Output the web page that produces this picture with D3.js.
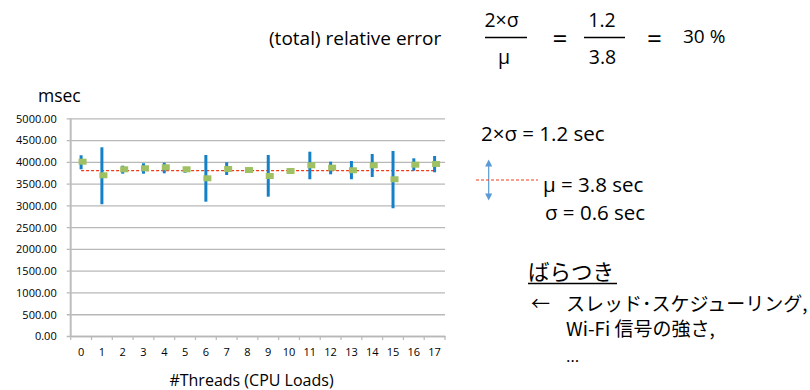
<!DOCTYPE html>
<html><head><meta charset="utf-8">
<script src="https://cdn.jsdelivr.net/npm/d3@7"></script>
<style>
body{margin:0;background:#fff;}
svg{display:block;}
text{font-family:"Open Sans","Lato",sans-serif;fill:#000;}
.jp{font-family:"Noto Sans CJK JP",sans-serif;}
</style></head>
<body><svg id="c" width="810" height="390"></svg>
<script>
const categories = ["0","1","2","3","4","5","6","7","8","9","10","11","12","13","14","15","16","17"];
const meanValues = [4004,3691,3829,3852,3875,3829,3622,3836,3813,3675,3790,3921,3866,3806,3921,3600,3935,3951];
const highValues = [4151,4334,3912,3967,3981,3875,4157,3990,3866,4157,3836,4233,4004,4020,4180,4249,4081,4134];
const lowValues  = [3829,3026,3728,3728,3737,3751,3085,3698,3751,3200,3737,3600,3714,3600,3652,2934,3797,3760];
const yTicks = [0,500,1000,1500,2000,2500,3000,3500,4000,4500,5000];
const overallMean = 3800;

const svg = d3.select("#c");
const x = d3.scaleBand().domain(categories).range([70.7,445]).paddingInner(0).paddingOuter(0);
const y = d3.scaleLinear().domain([0,5000]).range([336,118.3]);
const cx = c => x(c) + x.bandwidth()/2;

// gridlines + y labels
const yAxis = d3.axisLeft(y).tickValues(yTicks).tickFormat(d3.format(".2f")).tickSize(-(445-66.7)).tickPadding(10);
const ga = svg.append("g").attr("transform","translate(66.7,0)").call(yAxis);
ga.select(".domain").remove();
ga.selectAll(".tick line").attr("stroke","#b8b8b8").attr("stroke-width",1.3);
ga.selectAll(".tick text").attr("font-size","11px").attr("fill","#111").attr("x",-10).attr("dy","0.35em").style("font-family","'Open Sans',sans-serif");

// y axis line
svg.append("line").attr("x1",70.7).attr("x2",70.7).attr("y1",y(5000)).attr("y2",y(0)+1).attr("stroke","#bdbdbd").attr("stroke-width",2);

// x axis
const xAxis = d3.axisBottom(x).tickSize(0).tickPadding(12);
const gx = svg.append("g").attr("transform",`translate(0,${y(0)})`).call(xAxis);
gx.select(".domain").attr("stroke","#b8b8b8").attr("stroke-width",1.3);
gx.selectAll(".tick text").attr("font-size","11px").attr("fill","#111");
// band-boundary ticks
const bounds = categories.map(c=>x(c)).concat([x(categories[categories.length-1])+x.bandwidth()]);
svg.append("g").selectAll("line").data(bounds).join("line")
  .attr("x1",d=>d).attr("x2",d=>d).attr("y1",y(0)).attr("y2",y(0)+4)
  .attr("stroke","#b8b8b8").attr("stroke-width",1.2);

// mean dashed line
svg.append("line").attr("x1",cx(categories[0])).attr("x2",cx(categories[17]))
  .attr("y1",y(overallMean)).attr("y2",y(overallMean))
  .attr("stroke","#f03a17").attr("stroke-width",1.2).attr("stroke-dasharray","3,2");

// error bars
svg.append("g").selectAll("line").data(categories).join("line")
  .attr("x1",c=>cx(c)).attr("x2",c=>cx(c))
  .attr("y1",(c,i)=>y(highValues[i])).attr("y2",(c,i)=>y(lowValues[i]))
  .attr("stroke","#1580c9").attr("stroke-width",3);

// markers
svg.append("g").selectAll("rect").data(categories).join("rect")
  .attr("x",c=>cx(c)-2.5).attr("y",(c,i)=>y(meanValues[i])-3)
  .attr("width",8).attr("height",6).attr("fill","#9fc063");

// labels
svg.append("text").attr("x",38).attr("y",102).attr("font-size","17.5px").text("msec");
svg.append("text").attr("x",251.5).attr("y",386).attr("text-anchor","middle").attr("font-size","16px").text("#Threads (CPU Loads)");

// formula
svg.append("text").attr("x",269).attr("y",45).attr("font-size","19px").text("(total) relative error");
svg.append("text").attr("x",501.5).attr("y",27).attr("text-anchor","middle").attr("font-size","19.5px").text("2×σ");
svg.append("line").attr("x1",485).attr("x2",527).attr("y1",37.5).attr("y2",37.5).attr("stroke","#000").attr("stroke-width",1.3);
svg.append("text").attr("x",504).attr("y",64).attr("text-anchor","middle").attr("font-size","19.5px").text("μ");
svg.append("text").attr("x",560).attr("y",48).attr("text-anchor","middle").attr("font-size","26px").text("=");
svg.append("text").attr("x",602).attr("y",27).attr("text-anchor","middle").attr("font-size","19.5px").text("1.2");
svg.append("line").attr("x1",584).attr("x2",625).attr("y1",37.5).attr("y2",37.5).attr("stroke","#000").attr("stroke-width",1.3);
svg.append("text").attr("x",602.5).attr("y",64).attr("text-anchor","middle").attr("font-size","19.5px").text("3.8");
svg.append("text").attr("x",654.5).attr("y",48).attr("text-anchor","middle").attr("font-size","26px").text("=");
svg.append("text").attr("x",683).attr("y",43).attr("font-size","19px").text("30 %");

// right annotations
svg.append("text").attr("x",481).attr("y",141).attr("font-size","20.5px").text("2×σ = 1.2 sec");
const defs = svg.append("defs");
defs.append("marker").attr("id","ah").attr("viewBox","0 0 10 10").attr("refX",5).attr("refY",5)
  .attr("markerWidth",6).attr("markerHeight",6).attr("orient","auto-start-reverse")
  .append("path").attr("d","M0,0 L10,5 L0,10 z").attr("fill","#5b9bd5");
svg.append("line").attr("x1",488.7).attr("x2",488.7).attr("y1",163).attr("y2",197)
  .attr("stroke","#5b9bd5").attr("stroke-width",1.2).attr("marker-start","url(#ah)").attr("marker-end","url(#ah)");
svg.append("line").attr("x1",476).attr("x2",538).attr("y1",180).attr("y2",180)
  .attr("stroke","#f03a17").attr("stroke-width",1).attr("stroke-dasharray","3,2");
svg.append("text").attr("x",543).attr("y",192).attr("font-size","20.5px").text("μ = 3.8 sec");
svg.append("text").attr("x",545).attr("y",220).attr("font-size","20.5px").text("σ = 0.6 sec");

svg.append("text").attr("class","jp").attr("x",528).attr("y",280).attr("font-size","21.5px").text("ばらつき");
svg.append("line").attr("x1",528).attr("x2",617).attr("y1",283.5).attr("y2",283.5).attr("stroke","#000").attr("stroke-width",1.3);
svg.append("text").attr("class","jp").attr("x",531).attr("y",311).attr("font-size","19px").text("←");
svg.append("text").attr("class","jp").attr("x",566).attr("y",311).attr("font-size","19px").text("スレッド･スケジューリング,");
svg.append("text").attr("class","jp").attr("x",566).attr("y",336).attr("font-size","19px").text("Wi-Fi 信号の強さ,");
svg.append("text").attr("x",566).attr("y",362).attr("font-size","17px").text("…");
</script></body></html>
